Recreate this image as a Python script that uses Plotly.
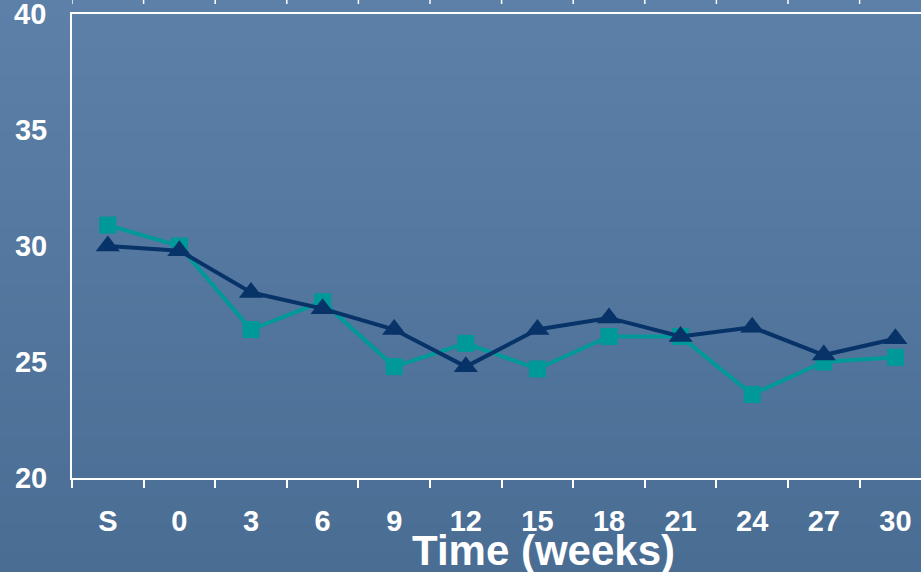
import plotly.graph_objects as go

# Data
weeks = ["S", "0", "3", "6", "9", "12", "15", "18", "21", "24", "27", "30"]
teal_vals = [30.9, 30.0, 26.4, 27.6, 24.8, 25.8, 24.7, 26.1, 26.1, 23.6, 25.0, 25.2]
navy_vals = [30.0, 29.8, 28.0, 27.3, 26.4, 24.8, 26.4, 26.9, 26.1, 26.5, 25.3, 26.0]
y_ticks = [20, 25, 30, 35, 40]

W, H = 921, 572
ML, MR, MT, MB = 72, 0, 14, 94
PW, PH = W - ML - MR, H - MT - MB
CAT_W = 71.6  # pixel width of one category slot

FONT = "Liberation Sans, Arial, sans-serif"
WHITE = "#ffffff"
TEAL = "#009999"
NAVY = "#073369"
TICK_SIZE = 29

fig = go.Figure()

fig.add_trace(go.Scatter(
    x=weeks, y=teal_vals, mode="lines+markers",
    line=dict(color=TEAL, width=4),
    marker=dict(symbol="square", size=17, color=TEAL),
    showlegend=False,
))
fig.add_trace(go.Scatter(
    x=weeks, y=navy_vals, mode="lines+markers",
    line=dict(color=NAVY, width=4),
    marker=dict(symbol="triangle-up", size=21, color=NAVY),
    showlegend=False,
))

# Vertical gradient backdrop built from thin bands
top_rgb = (92, 128, 168)
bot_rgb = (74, 109, 148)
n_bands = 60
x_lo, x_hi = -ML / PW, 1 + MR / PW + 0.01
y_lo, y_hi = -MB / PH, 1 + MT / PH
shapes = []
for i in range(n_bands):
    t = i / (n_bands - 1)
    c = tuple(round(top_rgb[k] + (bot_rgb[k] - top_rgb[k]) * t) for k in range(3))
    ya = y_hi - (y_hi - y_lo) * i / n_bands
    yb = y_hi - (y_hi - y_lo) * (i + 1) / n_bands
    shapes.append(dict(type="rect", xref="paper", yref="paper",
                       x0=x_lo, x1=x_hi, y0=yb, y1=ya + 0.002,
                       fillcolor="rgb(%d,%d,%d)" % c, line=dict(width=0),
                       layer="below"))

# Short tick marks along the very top edge
for i in range(len(weeks) + 1):
    shapes.append(dict(type="line", xref="x", yref="paper",
                       x0=i - 0.5, x1=i - 0.5,
                       y0=1 + 10 / PH, y1=1 + 16 / PH,
                       line=dict(color=WHITE, width=1.5)))

x_span = PW / CAT_W
label_gap = 24  # px between y labels' right edge and the axis line

annotations = [dict(
    text="Time (weeks)", xref="paper", yref="paper",
    x=(543 - ML) / PW, y=(H - MB - 550) / PH,
    xanchor="center", yanchor="middle", showarrow=False,
    font=dict(family=FONT, size=42, color=WHITE, weight="bold"),
)]
# The top y label sits right on the figure edge, so place it explicitly
annotations.append(dict(
    text=str(y_ticks[-1]), xref="paper", yref="y",
    x=0, y=y_ticks[-1], xanchor="right", yanchor="middle",
    xshift=-label_gap, showarrow=False,
    font=dict(family=FONT, size=TICK_SIZE, color=WHITE, weight="bold"),
))

fig.update_layout(
    width=W, height=H,
    margin=dict(l=ML, r=MR, t=MT, b=MB, pad=0),
    paper_bgcolor="rgb(82,118,159)",
    plot_bgcolor="rgba(0,0,0,0)",
    shapes=shapes,
    font=dict(family=FONT, color=WHITE, size=TICK_SIZE, weight="bold"),
    xaxis=dict(
        type="category", categoryorder="array", categoryarray=weeks,
        range=[-0.5, -0.5 + x_span],
        showline=True, linecolor=WHITE, linewidth=2, mirror=True,
        ticks="outside", tickson="boundaries", ticklen=8, tickwidth=1.5,
        tickcolor=WHITE, showgrid=False, zeroline=False,
        tickfont=dict(family=FONT, size=TICK_SIZE, color=WHITE, weight="bold"),
        ticklabelstandoff=16,
    ),
    yaxis=dict(
        range=[y_ticks[0], y_ticks[-1]], tickvals=y_ticks[:-1],
        ticktext=[str(v) for v in y_ticks[:-1]],
        showline=True, linecolor=WHITE, linewidth=2, mirror=False,
        ticks="", showgrid=False, zeroline=False,
        tickfont=dict(family=FONT, size=TICK_SIZE, color=WHITE, weight="bold"),
        ticklabelstandoff=17,
    ),
    annotations=annotations,
)

fig.write_html("out.html")
